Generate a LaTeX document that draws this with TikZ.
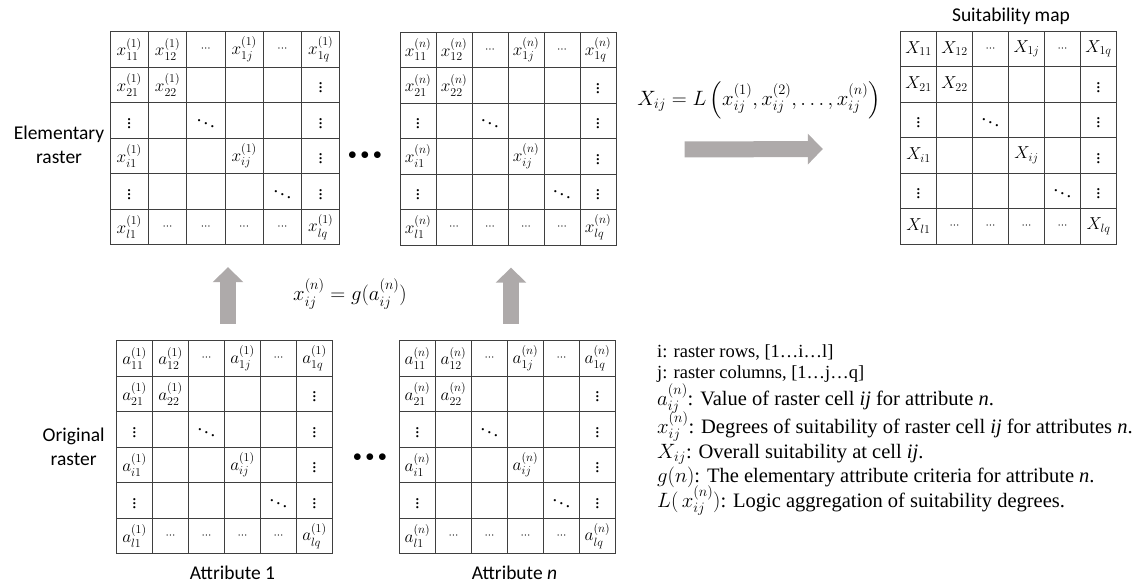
\documentclass[tikz,border=0pt]{standalone}
\usepackage{fontspec}
\setmainfont{Liberation Serif}
\newfontfamily\calibri{Carlito}
\usepackage{amsmath}
\usepackage{tikz}
\usetikzlibrary{arrows.meta, positioning, matrix}
\definecolor{gridline}{HTML}{3F3F3F}
\definecolor{arrowgray}{HTML}{AEAAAA}

\newcommand{\cellh}{{\scriptstyle\cdots}}
\newcommand{\rastercells}[1]{%
  #1_{11} \& #1_{12} \& \cellh \& #1_{1j} \& \cellh \& #1_{1q} \\
  #1_{21} \& #1_{22} \& \& \& \& \vdots \\
  \vdots \& \& \ddots \& \& \& \vdots \\
  #1_{i1} \& \& \& #1_{ij} \& \& \vdots \\
  \vdots \& \& \& \& \ddots \& \vdots \\
  #1_{l1} \& \cellh \& \cellh \& \cellh \& \cellh \& #1_{lq} \\
}

\begin{document}
\begin{tikzpicture}[
  x=1pt, y=-1pt,
  raster/.style={matrix of math nodes, nodes in empty cells,
                 ampersand replacement=\&, column sep=-1pt, row sep=-1pt,
                 inner sep=0pt,
                 nodes={draw=gridline, line width=1pt, inner sep=0pt,
                        anchor=center, minimum width=#1, minimum height=35.5pt,
                        font=\fontsize{18.5}{18.5}\selectfont}},
  raster/.default=36pt,
  rasterlabel/.style={font=\calibri\fontsize{19.5}{24}\selectfont,
                      align=center, inner sep=0pt},
  formula/.style={font=\fontsize{20}{24}\selectfont, inner sep=0pt},
  legendtext/.style={font=\fontsize{20.5}{22}\selectfont, anchor=base west,
                     inner sep=0pt},
  legendsmall/.style={legendtext, font=\fontsize{18.5}{20}\selectfont},
  bigarrow/.style={arrowgray, line width=16pt,
                   -{Triangle[length=15pt, width=30pt]}}
]
\useasboundingbox (0,0) rectangle (1141,583);

\matrix[raster=38.3pt] (elem1) at (225,138) {\rastercells{x^{(1)}}};
\matrix[raster] (elemN) at (508,138.5) {\rastercells{x^{(n)}}};
\matrix[raster] (suit) at (1008.5,137.5) {\rastercells{X}};
\matrix[raster] (orig1) at (224.5,447) {\rastercells{a^{(1)}}};
\matrix[raster] (origN) at (507.5,447) {\rastercells{a^{(n)}}};

\node[rasterlabel, left=5pt of elem1, yshift=-7pt] (elemlabel) {Elementary\\raster};
\node[rasterlabel, left=11pt of orig1] (origlabel) {Original\\raster};
\node[rasterlabel, above=5pt of suit, xshift=2.5pt] (suitlabel) {Suitability map};
\node[rasterlabel, below=12pt of orig1, xshift=8pt] (attr1) {Attribute 1};
\node[rasterlabel, below=12pt of origN, xshift=7pt] (attrN) {Attribute \textit{n}};

\node[font=\fontsize{16}{16}\selectfont, inner sep=0pt] (dotstop) at (365,156) {$\bullet\bullet\bullet$};
\node[font=\fontsize{16}{16}\selectfont, inner sep=0pt] (dotsbot) at (370,458) {$\bullet\bullet\bullet$};

\node[formula] (aggrule) at (759,100)
  {$X_{ij} = L\left(x^{(1)}_{ij}, x^{(2)}_{ij}, \ldots, x^{(n)}_{ij}\right)$};
\node[formula] (elemrule) at (350,294) {$x^{(n)}_{ij} = g(a^{(n)}_{ij})$};

\draw[bigarrow] ([xshift=3.5pt,yshift=16pt]orig1.north) -- ([xshift=3pt,yshift=-22pt]elem1.south);
\draw[bigarrow] ([xshift=3.5pt,yshift=16pt]origN.north) -- ([xshift=3pt,yshift=-22pt]elemN.south);
\draw[bigarrow] ([xshift=68pt,yshift=-11pt]elemN.east) -- ([xshift=-77pt,yshift=-11.5pt]suit.west);

% legend
\node[legendsmall] (leg1) at (657,357) {i: raster rows, [1…i…l]};
\node[legendsmall] (leg2) at (657,378) {j: raster columns, [1…j…q]};
\node[legendtext] (leg3) at (657,405) {$a^{(n)}_{ij}$: Value of raster cell \textit{ij} for attribute \textit{n}.};
\node[legendtext] (leg4) at (657,433) {$x^{(n)}_{ij}$: Degrees of suitability of raster cell \textit{ij} for attributes \textit{n}.};
\node[legendtext] (leg5) at (657,458) {$X_{ij}$: Overall suitability at cell \textit{ij}.};
\node[legendtext] (leg6) at (657,482) {$g(n)$: The elementary attribute criteria for attribute \textit{n}.};
\node[legendtext] (leg7) at (657,507) {$L(\,x^{(n)}_{ij})$: Logic aggregation of suitability degrees.};

\end{tikzpicture}
\end{document}
